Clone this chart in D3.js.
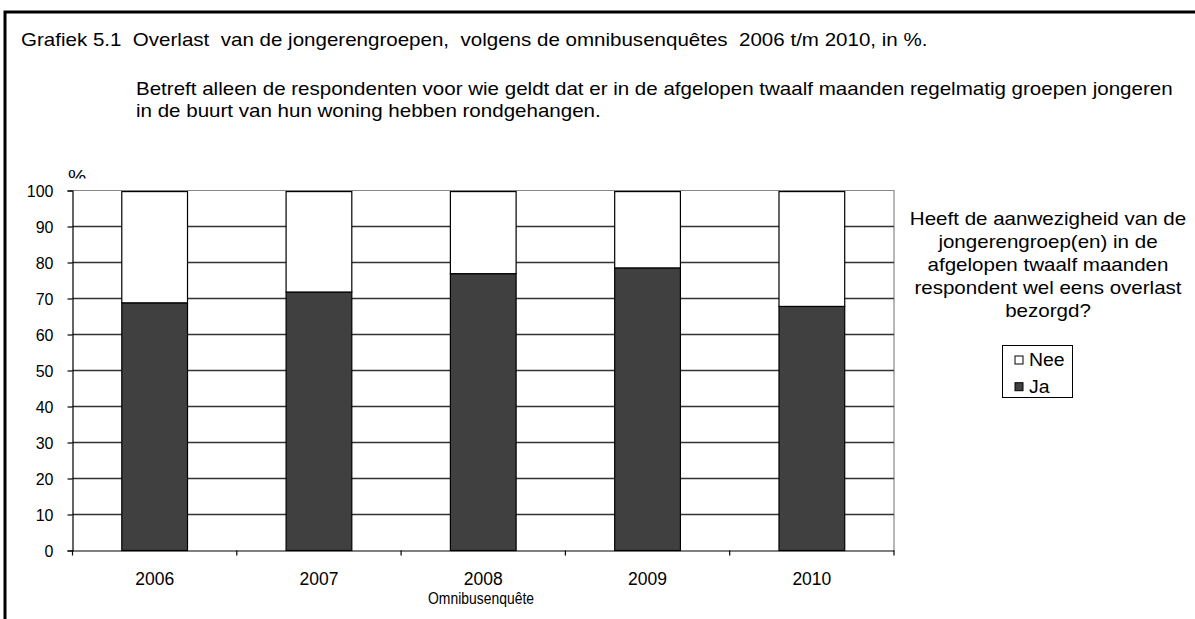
<!DOCTYPE html>
<html>
<head>
<meta charset="utf-8">
<script src="https://cdn.jsdelivr.net/npm/d3@7"></script>
<style>
  body { margin: 0; background: #fff; }
  text { font-family: 'Liberation Sans', Arial, sans-serif; fill: #000; }
</style>
</head>
<body>
<div id="chart"></div>
<script>
const years = ['2006', '2007', '2008', '2009', '2010'];
const ja = [68.8, 71.8, 76.9, 78.5, 67.8];
const nee = [30.9, 27.9, 22.8, 21.2, 31.9];
const yTicks = [0, 10, 20, 30, 40, 50, 60, 70, 80, 90, 100];
const seriesNames = ['Nee', 'Ja'];
const colors = { Ja: '#404040', Nee: '#ffffff' };
const legendLines = ['Heeft de aanwezigheid van de', 'jongerengroep(en) in de',
  'afgelopen twaalf maanden', 'respondent wel eens overlast', 'bezorgd?'];

const W = 1195, H = 619;
const margin = { top: 190.5, left: 72.5, right: 301, bottom: 68.5 };
const width = W - margin.left - margin.right;
const height = H - margin.top - margin.bottom;
const FS = '18.5px';
const STRETCH = 1.11; // text in the picture is a bit wider than the font

const svg = d3.select('#chart').append('svg').attr('width', W).attr('height', H);

// helper: text widened by the same factor as in the picture
function label(parent, x, y, str, anchor, size) {
  const t = parent.append('text')
    .attr('x', x).attr('y', y)
    .attr('text-anchor', anchor || 'start')
    .attr('xml:space', 'preserve')
    .style('font-size', size || FS)
    .text(str);
  const w = t.node().getComputedTextLength();
  t.attr('textLength', w * STRETCH).attr('lengthAdjust', 'spacingAndGlyphs');
  return t;
}

// outer frame (only top and left visible)
svg.append('path')
  .attr('d', `M5,${H + 5}V12H${W + 5}`)
  .attr('fill', 'none').attr('stroke', '#000').attr('stroke-width', 3);

label(svg, 21, 45.5, 'Grafiek 5.1  Overlast  van de jongerengroepen,  volgens de omnibusenquêtes  2006 t/m 2010, in %.');
label(svg, 136, 95, 'Betreft alleen de respondenten voor wie geldt dat er in de afgelopen twaalf maanden regelmatig groepen jongeren');
label(svg, 136, 117, 'in de buurt van hun woning hebben rondgehangen.');

// "%" is cut off by the plot area in the original
svg.append('clipPath').attr('id', 'pct').append('rect')
  .attr('x', 60).attr('y', 150).attr('width', 40).attr('height', 28.5);
label(svg, 68, 183, '%').attr('clip-path', 'url(#pct)');

const g = svg.append('g').attr('transform', `translate(${margin.left},${margin.top})`);

const x = d3.scaleBand().domain(years).range([0, width]).paddingInner(0.6).paddingOuter(0.3);
const xb = d3.scaleBand().domain(years).range([0, width]);
const y = d3.scaleLinear().domain([0, 100]).range([height, 0]);

// plot area border top/right
g.append('path').attr('d', `M0,0H${width}V${height}`)
  .attr('fill', 'none').attr('stroke', '#888').attr('stroke-width', 1.2);

// gridlines
g.selectAll('.grid').data(yTicks.filter(d => d > 0 && d < 100)).enter()
  .append('line')
  .attr('x1', 0).attr('x2', width)
  .attr('y1', d => y(d)).attr('y2', d => y(d))
  .attr('stroke', '#333').attr('stroke-width', 1.3);

// stacked bars
const rows = years.map((yr, i) => ({ year: yr, Ja: ja[i], Nee: nee[i] }));
const stack = d3.stack().keys(['Ja', 'Nee'])(rows);
g.selectAll('.layer').data(stack).enter().append('g')
  .attr('fill', d => colors[d.key])
  .selectAll('rect').data(d => d).enter().append('rect')
  .attr('x', d => x(d.data.year))
  .attr('width', x.bandwidth())
  .attr('y', d => y(d[1]))
  .attr('height', d => y(d[0]) - y(d[1]))
  .attr('stroke', '#000').attr('stroke-width', 1.2);

// y axis
const yAxis = g.append('g').call(d3.axisLeft(y).tickValues(yTicks).tickSize(5).tickPadding(14));
yAxis.selectAll('text')
  .style('font-size', '16px').style('font-family', "'Liberation Sans', Arial, sans-serif")
  .attr('dy', '0.36em');
yAxis.select('.domain').attr('stroke', '#000').attr('stroke-width', 1.2);
yAxis.selectAll('.tick line').attr('stroke-width', 1.2);

// x axis
const xAxis = g.append('g').attr('transform', `translate(0,${height})`)
  .call(d3.axisBottom(xb).tickSize(0));
xAxis.selectAll('text')
  .style('font-size', '17.5px').style('font-family', "'Liberation Sans', Arial, sans-serif")
  .attr('dy', null).attr('y', 34);
xAxis.select('.domain').attr('stroke', '#000').attr('stroke-width', 1.2);
xAxis.selectAll('.sep').data(d3.range(years.length + 1)).enter().append('line')
  .attr('x1', i => i * xb.step()).attr('x2', i => i * xb.step())
  .attr('y1', 0).attr('y2', 5).attr('stroke', '#000').attr('stroke-width', 1.2);

// axis title is set a little narrower in the original
svg.append('text').attr('x', 481).attr('y', 604)
  .attr('text-anchor', 'middle').style('font-size', '17px')
  .attr('textLength', 106).attr('lengthAdjust', 'spacingAndGlyphs')
  .text('Omnibusenquête');

// legend title
legendLines.forEach((s, i) => label(svg, 1048, 225 + i * 22.9, s, 'middle'));

const lg = svg.append('g').attr('transform', 'translate(1002.5,345.5)');
lg.append('rect').attr('width', 70).attr('height', 52).attr('fill', '#fff').attr('stroke', '#000');
seriesNames.forEach((s, i) => {
  lg.append('rect').attr('x', 12.5).attr('y', 10.5 + i * 26.7).attr('width', 8).attr('height', 8)
    .attr('fill', colors[s]).attr('stroke', '#000');
  label(lg, 26.5, 20.2 + i * 27, s, 'start', '17.5px');
});
</script>
</body>
</html>
